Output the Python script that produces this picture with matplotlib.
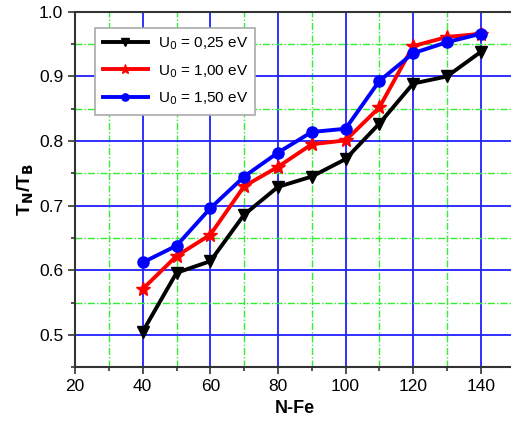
import matplotlib
matplotlib.use("Agg")
import matplotlib.pyplot as plt
from matplotlib.ticker import MultipleLocator

plt.rcParams['font.family'] = ['Liberation Sans', 'DejaVu Sans']

n_fe = [40, 50, 60, 70, 80, 90, 100, 110, 120, 130, 140]
u025 = [0.505, 0.596, 0.614, 0.686, 0.729, 0.745, 0.772, 0.827, 0.889, 0.900, 0.938]
u100 = [0.571, 0.622, 0.655, 0.730, 0.760, 0.795, 0.801, 0.852, 0.947, 0.961, 0.966]
u150 = [0.612, 0.638, 0.696, 0.745, 0.782, 0.814, 0.819, 0.893, 0.936, 0.953, 0.966]
labels = ['U$_0$ = 0,25 eV', 'U$_0$ = 1,00 eV', 'U$_0$ = 1,50 eV']

fig = plt.figure(figsize=(5.11, 4.22), dpi=100)
ax = fig.add_axes([0.147, 0.130, 0.86, 0.842])

ax.set_xlim(20, 150)
ax.set_ylim(0.45, 1.0)
ax.xaxis.set_major_locator(MultipleLocator(20))
ax.xaxis.set_minor_locator(MultipleLocator(10))
ax.yaxis.set_major_locator(MultipleLocator(0.1))
ax.yaxis.set_minor_locator(MultipleLocator(0.05))
ax.grid(which='major', color='#2020ff', lw=1.3, ls='-')
ax.grid(which='minor', color='#33ee33', lw=1.0, ls=(0, (5, 1.5, 1, 1.5)))
ax.set_axisbelow(True)

ax.plot(n_fe, u025, color='black', lw=2.8, marker='v', ms=9, label=labels[0])
ax.plot(n_fe, u100, color='red', lw=2.8, marker='*', ms=10, label=labels[1])
ax.plot(n_fe, u150, color='blue', lw=2.8, marker='o', ms=8, label=labels[2])

ax.yaxis.set_major_formatter(matplotlib.ticker.FormatStrFormatter('%.1f'))
ax.tick_params(which='both', direction='out', labelsize=12.5, color='#333333', width=1.2)
ax.tick_params(which='major', length=5)
ax.tick_params(which='minor', length=3)
for s in ax.spines.values():
    s.set_color('#333333')
    s.set_linewidth(1.5)

ax.set_xlabel('N-Fe', fontsize=13, fontweight='bold', labelpad=4)
ax.set_ylabel('T$_\\mathbf{N}$/T$_\\mathbf{B}$', fontsize=14, fontweight='bold', labelpad=2)

leg = ax.legend(loc='upper left', bbox_to_anchor=(0.045, 0.955), fontsize=11, frameon=True,
                fancybox=False, edgecolor='#aaaaaa', framealpha=1, handlelength=3.0,
                handletextpad=0.6, borderpad=0.5, labelspacing=0.7, markerscale=0.65,
                borderaxespad=0)
leg.get_frame().set_linewidth(1.2)

fig.savefig('out.png', dpi=100)
